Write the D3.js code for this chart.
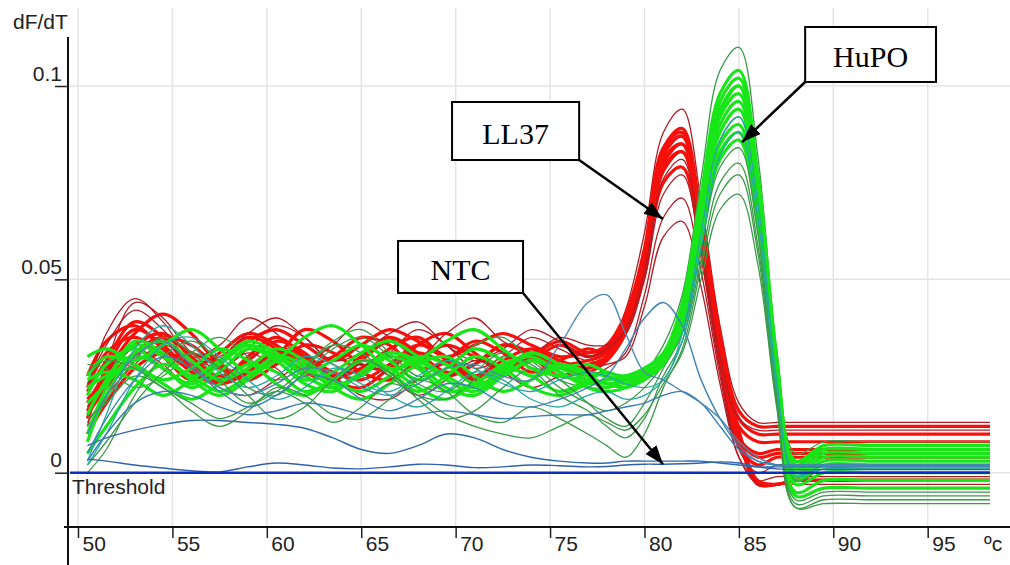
<!DOCTYPE html>
<html>
<head>
<meta charset="utf-8">
<script src="https://cdn.jsdelivr.net/npm/d3@7"></script>
<style>
body { margin: 0; background: #fff; }
svg { display: block; }
.axis text { font-family: "Liberation Sans", Arial, sans-serif; font-size: 21px; fill: #222; }
.note text { font-family: "Liberation Serif", "Times New Roman", serif; font-size: 30px; fill: #000; }
</style>
</head>
<body>
<svg width="1010" height="565"></svg>
<script>
// temperature of each sample (ºc)
var temps = [50.5, 51.5, 53, 54.5, 56, 57.5, 59, 60.5, 62, 63.5, 65, 66.5, 68, 69.5, 71, 72.5, 74, 75.5, 77,
             78, 79, 80, 81, 82, 83, 84, 85, 86, 87, 88, 89.5, 92, 95, 98.3];

// dF/dT values, in units of 0.001
var ll37 = [
  [12,28,44,40,31,27,32,38,35,28,26,31,37,33,27,30,35,32,29, 31,42,62,88,94,70,38,18,13,13, 13,13,13,13,13],
  [18,26,36,41,36,28,25,30,37,34,28,27,33,36,31,26,29,33,30, 32,40,58,84,89,66,36,16,12,12, 12,12,12,12,12],
  [22,31,35,30,24,29,35,32,26,24,29,34,30,25,28,33,31,27,28, 30,38,55,82,87,63,34,14,10,10, 10,10,10,10,10],
  [15,22,30,35,33,27,24,28,33,31,26,24,29,33,30,27,30,34,31, 33,41,57,80,85,62,32,12,8,8, 8,8,8,8,8],
  [25,34,38,32,27,31,36,33,28,30,35,33,27,29,34,31,26,29,32, 31,37,53,78,83,60,30,9,5,6, 6,6,6,6,6],
  [10,18,27,31,28,23,26,31,29,24,22,27,31,28,24,27,31,28,26, 29,36,51,75,79,57,28,7,2,4, 4,4,4,4,4],
  [20,36,45,39,30,33,40,36,29,33,39,35,30,36,40,34,31,35,33, 33,36,50,72,77,56,27,6,0,2, 2,2,2,2,2],
  [16,25,33,36,30,25,29,34,31,25,27,32,35,29,25,29,32,29,27, 30,38,56,83,87,64,33,10,-3,-3, -2,-2,-2,-2,-2],
  [21,29,39,35,27,24,30,35,30,25,30,35,31,26,28,33,30,25,27, 29,37,54,81,85,63,32,9,-3,-3, -2,-2,-2,-2,-2],
  [13,20,28,33,29,22,20,24,28,25,20,19,24,28,24,21,24,27,25, 27,31,46,66,71,52,25,4,-3,-3, -3,-3,-3,-3,-3],
  [17,26,32,28,22,26,31,27,21,23,28,25,20,24,29,26,22,25,27, 28,30,43,61,65,48,23,4,-2,-1, -1,-1,-1,-1,-1],
  [19,24,31,35,31,29,34,37,33,29,33,37,34,30,33,36,33,30,31, 32,39,55,79,83,61,31,9,4,5, 5,5,5,5,5],
  [14,27,37,33,26,23,27,32,30,26,24,28,33,30,25,27,31,28,29, 31,39,57,84,88,65,35,11,-2,-3, -2,-2,-2,-2,-2],
  [23,33,42,37,29,30,36,40,35,29,31,36,39,33,29,32,37,34,30, 32,37,52,76,81,59,30,14,11,11, 11,11,11,11,11]
];

var hupo = [
  [28,27,22,25,31,35,30,24,28,34,37,31,25,27,33,35,29,24,22, 22,23,26,33,46,76,104,110,82,32,5, 8,8,8,8],
  [8,20,30,27,22,26,32,29,23,21,26,31,28,22,20,25,29,26,23, 24,25,27,31,44,72,98,104,77,29,3, 7,7,7,7],
  [22,25,27,23,19,23,28,26,21,24,29,27,22,19,23,27,25,21,24, 26,24,25,30,43,70,96,102,76,28,2, 6,6,6,6],
  [15,24,33,30,24,20,24,29,27,22,19,23,28,30,25,21,24,28,26, 25,23,26,29,42,69,94,100,74,27,1, 5,5,5,5],
  [5,12,22,28,25,21,25,30,28,23,25,30,27,21,23,28,30,26,22, 21,22,25,28,41,68,92,98,73,26,0, 4,4,4,4],
  [25,30,28,24,27,32,29,23,20,24,29,26,21,25,30,27,22,20,23, 24,25,26,29,40,66,90,96,71,25,-1, 3,3,3,3],
  [18,23,31,34,29,24,27,32,29,24,21,25,30,28,23,25,29,27,24, 22,24,27,30,39,65,88,94,70,24,-2, 2,2,2,2],
  [12,19,29,35,31,24,18,21,27,33,31,25,20,19,24,30,28,22,18, 16,18,22,28,38,63,86,92,68,24,-2, 1,1,1,1],
  [20,28,32,27,23,28,33,30,25,22,26,31,29,24,21,26,31,28,25, 23,24,26,29,38,62,85,90,67,23,-3, 0,0,0,0],
  [10,22,34,31,25,29,34,31,26,29,33,29,24,27,32,29,25,27,28, 26,25,27,30,37,61,83,88,65,22,-5, -2,-2,-2,-2],
  [24,26,24,20,24,29,33,29,24,26,31,34,30,25,22,27,31,28,26, 25,24,26,29,37,60,81,86,64,21,-6, -4,-4,-4,-4],
  [2,8,18,26,31,27,20,14,17,24,29,26,19,14,16,22,27,24,18, 14,12,18,27,36,58,79,84,62,20,-7, -5,-5,-5,-5],
  [0,6,20,30,34,29,22,20,26,32,35,30,23,21,26,31,27,20,16, 12,9,14,25,34,55,75,80,59,19,-8, -6,-6,-6,-6],
  [14,18,25,22,16,12,16,22,20,15,14,19,24,21,15,13,17,14,10, 7,4,10,22,32,53,72,77,57,18,-9, -7,-7,-7,-7],
  [26,29,27,22,18,14,17,21,18,13,17,23,20,15,12,10,9,12,15, 13,11,15,23,31,50,68,72,54,17,-9, -8,-8,-8,-8],
  [30,32,29,33,37,32,26,29,35,38,33,27,29,34,37,32,27,25,24, 23,22,24,28,40,67,93,100,77,30,3, 6,6,6,6],
  [3,15,32,38,33,26,22,25,30,28,23,21,25,29,27,23,21,24,26, 25,23,22,24,36,62,86,92,70,24,-1, 2,2,2,2],
  [2,10,24,33,35,30,24,19,22,27,25,20,17,21,26,24,19,17,20, 21,19,20,24,34,58,82,88,66,22,0, 1,1,1,1]
];

var ntc = [
  [3.5,3,2,1.2,0.5,0.2,1.5,2.5,2,1.2,1,1.5,2.2,2,1.3,1.5,2,1.8,1.5, 1.6,2,2.2,2.2,2.3,2.5,2.8,2.5,1.5,1,0.8, 0.8,0.8,0.8,0.8],
  [7,9,11,12.5,13.5,13.5,13,12.5,11.5,9,6,5,7,10,9,6,4,3,2.5, 2.5,3,3,3,3,3,2.5,2,1.5,1.5,1.5, 1.5,1.5,1.5,1.5],
  [3,10,18,21,20,17,15,16,18,17,15,14,15,16,15,14,14.5,15,15, 16,17,18,20,21,18,12,6,3,2,2, 2,2,2,2],
  [10,20,30,34,28,22,20,23,27,26,22,20,23,27,28,25,24,33,44, 46,36,26,24,21,18,14,8,4,2,2, 2,2,2,2],
  [5,14,24,30,27,21,17,20,25,24,19,16,19,23,22,18,17,19,22, 25,32,40,44,38,24,14,7,3,2,1.5, 1.5,1.5,1.5,1.5]
];

var threshold = 0;

var xTicks = [50, 55, 60, 65, 70, 75, 80, 85, 90, 95];
var yTicks = [0, 50, 100];
var yTickLabels = ["0", "0.05", "0.1"];

var notes = [
  {label: "LL37", box: [69.81, 95.86, 76.54, 80.86], tip: [80.98, 65.6], corner: "br"},
  {label: "HuPO", box: [88.51, 115.26, 95.44, 101.04], tip: [85.17, 85.5], corner: "bl"},
  {label: "NTC",  box: [66.95, 59.93, 73.57, 46.48], tip: [80.98, 2.2], corner: "br"}
];

// line styles (not data)
var ll37Outline = [0, 6, 9, 10, 13];
var hupoOutline = [0, 7, 11, 12, 13, 14];
var hupoTeal = [16, 17];
var ntcColors = ["#2f5fae", "#2f6aa8", "#3b7db5", "#4a88b0", "#3f84b2"];

var svg = d3.select("svg");

var x = d3.scaleLinear().domain([50, 95]).range([78, 927.7]);
var y = d3.scaleLinear().domain([0, 100]).range([472.7, 86]);

var line = d3.line()
    .x(function(d, i) { return x(temps[i]); })
    .y(function(d) { return y(d); })
    .curve(d3.curveCatmullRom.alpha(0.5));

// grid
svg.append("g").selectAll("line")
    .data(xTicks)
  .enter().append("line")
    .attr("x1", x).attr("x2", x)
    .attr("y1", 8).attr("y2", 527)
    .attr("stroke", "#e4e4e4").attr("stroke-width", 1.5);

svg.append("g").selectAll("line")
    .data(yTicks)
  .enter().append("line")
    .attr("x1", 68).attr("x2", 1010)
    .attr("y1", y).attr("y2", y)
    .attr("stroke", "#e4e4e4").attr("stroke-width", 1.5);

// curves
svg.append("g").selectAll("path")
    .data(ll37)
  .enter().append("path")
    .attr("d", line)
    .attr("fill", "none")
    .attr("stroke", function(d, i) { return ll37Outline.indexOf(i) >= 0 ? "#b01c24" : "#f5100c"; })
    .attr("stroke-width", function(d, i) { return ll37Outline.indexOf(i) >= 0 ? 1.3 : 3.2; });

svg.append("g").selectAll("path")
    .data(hupo)
  .enter().append("path")
    .attr("d", line)
    .attr("fill", "none")
    .attr("stroke", function(d, i) {
      if (hupoTeal.indexOf(i) >= 0) return "#23a9a0";
      return hupoOutline.indexOf(i) >= 0 ? "#3b9a48" : "#19e619";
    })
    .attr("stroke-width", function(d, i) { return hupoOutline.indexOf(i) >= 0 || hupoTeal.indexOf(i) >= 0 ? 1.3 : 3.2; });

svg.append("g").selectAll("path")
    .data(ntc)
  .enter().append("path")
    .attr("d", line)
    .attr("fill", "none")
    .attr("stroke", function(d, i) { return ntcColors[i]; })
    .attr("stroke-width", 1.4);

// threshold
svg.append("line")
    .attr("x1", 70).attr("x2", x(temps[temps.length - 1]))
    .attr("y1", y(threshold)).attr("y2", y(threshold))
    .attr("stroke", "#0c2fbf").attr("stroke-width", 2.5);

svg.append("text")
    .attr("class", "axis")
    .attr("x", 72).attr("y", 494)
    .style("font-family", "'Liberation Sans', Arial, sans-serif")
    .style("font-size", "21px").style("fill", "#222")
    .text("Threshold");

// axes
var gx = svg.append("g")
    .attr("class", "axis")
    .attr("transform", "translate(0,527)")
    .call(d3.axisBottom(x).tickValues(xTicks).tickSize(11).tickFormat(d3.format("d")));
gx.select(".domain").remove();
gx.selectAll(".tick line").attr("stroke", "#222").attr("stroke-width", 1.5);
gx.selectAll(".tick text").attr("x", 4).attr("y", 9).attr("text-anchor", "start");

var gy = svg.append("g")
    .attr("class", "axis")
    .attr("transform", "translate(68,0)")
    .call(d3.axisLeft(y).tickValues(yTicks).tickSize(13).tickFormat(function(d, i) { return yTickLabels[i]; }));
gy.select(".domain").remove();
gy.selectAll(".tick line").attr("stroke", "#222").attr("stroke-width", 1.5);
gy.selectAll(".tick text").attr("x", -6).attr("dy", "-0.28em");

svg.append("line")
    .attr("x1", 68).attr("x2", 68).attr("y1", 37).attr("y2", 565)
    .attr("stroke", "#111").attr("stroke-width", 2);
svg.append("line")
    .attr("x1", 64).attr("x2", 1010).attr("y1", 527).attr("y2", 527)
    .attr("stroke", "#111").attr("stroke-width", 2);

var labels = svg.append("g").attr("class", "axis");
labels.append("text").attr("x", 13).attr("y", 29).text("dF/dT");
labels.append("text").attr("x", 984).attr("y", 551).text("ºc");

// annotations
svg.append("defs").append("marker")
    .attr("id", "head")
    .attr("markerUnits", "userSpaceOnUse")
    .attr("markerWidth", 20).attr("markerHeight", 16)
    .attr("refX", 19).attr("refY", 8)
    .attr("orient", "auto")
  .append("path")
    .attr("d", "M0,1 L19,8 L0,15 Z")
    .attr("fill", "#000");

var note = svg.append("g").attr("class", "note").selectAll("g")
    .data(notes)
  .enter().append("g");

note.append("line")
    .attr("x1", function(d) { return d.corner === "br" ? x(d.box[2]) : x(d.box[0]); })
    .attr("y1", function(d) { return y(d.box[3]); })
    .attr("x2", function(d) { return x(d.tip[0]); })
    .attr("y2", function(d) { return y(d.tip[1]); })
    .attr("stroke", "#000").attr("stroke-width", 2.5)
    .attr("marker-end", "url(#head)");

note.append("rect")
    .attr("x", function(d) { return x(d.box[0]); })
    .attr("y", function(d) { return y(d.box[1]); })
    .attr("width", function(d) { return x(d.box[2]) - x(d.box[0]); })
    .attr("height", function(d) { return y(d.box[3]) - y(d.box[1]); })
    .attr("fill", "#fff").attr("stroke", "#000").attr("stroke-width", 2);

note.append("text")
    .attr("x", function(d) { return (x(d.box[0]) + x(d.box[2])) / 2; })
    .attr("y", function(d) { return (y(d.box[1]) + y(d.box[3])) / 2; })
    .attr("dy", "0.42em")
    .attr("text-anchor", "middle")
    .text(function(d) { return d.label; });
</script>
</body>
</html>
